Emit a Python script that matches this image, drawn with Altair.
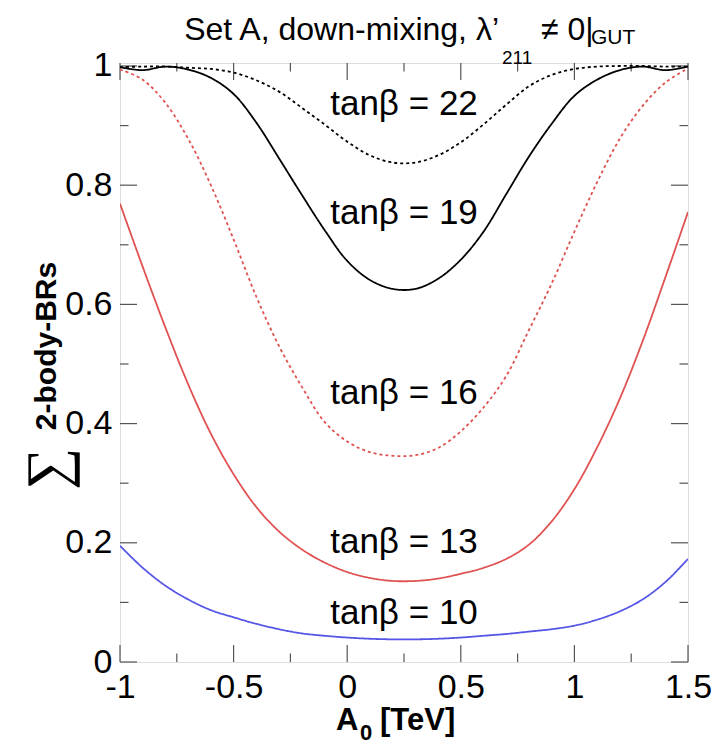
import altair as alt
import pandas as pd

# ---------------- data ----------------
a0 = [-1.0, -0.9, -0.8, -0.7, -0.6, -0.5, -0.4, -0.3, -0.2, -0.1, 0.0,
      0.1, 0.2, 0.3, 0.4, 0.5, 0.6, 0.7, 0.8, 0.9, 1.0, 1.1, 1.2, 1.3, 1.4, 1.5]

br_tb10 = [0.195, 0.158, 0.128, 0.105, 0.087, 0.075, 0.064, 0.055, 0.048, 0.044, 0.041,
           0.039, 0.038, 0.038, 0.039, 0.041, 0.044, 0.047, 0.051, 0.055, 0.061,
           0.071, 0.085, 0.105, 0.134, 0.173]
br_tb13 = [0.769, 0.663, 0.561, 0.466, 0.383, 0.315, 0.260, 0.219, 0.189, 0.167, 0.151,
           0.141, 0.136, 0.136, 0.140, 0.148, 0.158, 0.173, 0.197, 0.236, 0.290,
           0.360, 0.442, 0.538, 0.645, 0.755]
br_tb16 = [0.994, 0.977, 0.938, 0.878, 0.800, 0.709, 0.613, 0.530, 0.462, 0.403, 0.370,
           0.352, 0.346, 0.347, 0.359, 0.387, 0.427, 0.480, 0.557, 0.635, 0.722,
           0.805, 0.878, 0.933, 0.972, 0.996]
br_tb19 = [0.998, 0.993, 0.999, 0.994, 0.980, 0.953, 0.905, 0.845, 0.784, 0.725, 0.673,
           0.641, 0.626, 0.626, 0.643, 0.675, 0.722, 0.785, 0.848, 0.903, 0.950,
           0.977, 0.993, 0.999, 0.993, 0.999]
br_tb22 = [0.998, 0.999, 0.999, 0.997, 0.995, 0.989, 0.976, 0.957, 0.930, 0.902, 0.873,
           0.850, 0.838, 0.838, 0.850, 0.872, 0.902, 0.935, 0.966, 0.985, 0.995,
           0.999, 1.000, 1.000, 0.999, 0.999]

series_names = ["tb10", "tb13", "tb16", "tb19", "tb22"]
series_vals = [br_tb10, br_tb13, br_tb16, br_tb19, br_tb22]
series_colors = ["#5555e6", "#e05252", "#e05252", "#000000", "#000000"]
series_dash = [[1, 0], [1, 0], [3, 3], [1, 0], [3, 3]]

label_texts = ["tanβ = 10", "tanβ = 13", "tanβ = 16", "tanβ = 19", "tanβ = 22"]
label_x = [0.25, 0.25, 0.25, 0.25, 0.25]
label_y = [0.082, 0.201, 0.452, 0.753, 0.936]

x_major = [-1.0, -0.5, 0.0, 0.5, 1.0, 1.5]
x_minor = [-0.75, -0.25, 0.25, 0.75, 1.25]
y_major = [0.0, 0.2, 0.4, 0.6, 0.8, 1.0]
y_minor = [0.1, 0.3, 0.5, 0.7, 0.9]

# ---------------- tables ----------------
rows = []
for name, vals in zip(series_names, series_vals):
    for xv, yv in zip(a0, vals):
        rows.append({"A0": xv, "br": yv, "series": name})
lines_df = pd.DataFrame(rows)
labels_df = pd.DataFrame({"x": label_x, "y": label_y, "text": label_texts})
xmaj_df = pd.DataFrame({"v": x_major})
xmin_df = pd.DataFrame({"v": x_minor})
ymaj_df = pd.DataFrame({"v": y_major})
ymin_df = pd.DataFrame({"v": y_minor})
dummy = pd.DataFrame({"d": [0]})

W, H = 568, 599
XS = alt.Scale(domain=[-1.0, 1.5], nice=False, zero=False)
YS = alt.Scale(domain=[0.0, 1.005], nice=False, zero=False)
FONT = "Liberation Sans"
TICK_COLOR = "#555555"
MAJ, MIN = 17, 8.5

XAX = alt.Axis(values=x_major, labelExpr="'' + datum.value", ticks=False, tickSize=0,
               domain=False, grid=False, labelFontSize=34, labelFont=FONT,
               labelColor="black", labelPadding=8, labelFlush=False,
               labelOverlap=False, title=None)
YAX = alt.Axis(values=y_major, labelExpr="'' + datum.value", ticks=False, tickSize=0,
               domain=False, grid=False, labelFontSize=34, labelFont=FONT,
               labelColor="black", labelPadding=8, labelFlush=False,
               labelOverlap=False, title=None)

lines = alt.Chart(lines_df).mark_line(strokeWidth=1.8, interpolate="catmull-rom", clip=True).encode(
    x=alt.X("A0:Q", scale=XS, axis=XAX),
    y=alt.Y("br:Q", scale=YS, axis=YAX),
    color=alt.Color("series:N", scale=alt.Scale(domain=series_names, range=series_colors), legend=None),
    strokeDash=alt.StrokeDash("series:N", scale=alt.Scale(domain=series_names, range=series_dash), legend=None),
    detail="series:N",
)


def xticks(df, length):
    bottom = alt.Chart(df).mark_rule(color=TICK_COLOR, strokeWidth=1.2).encode(
        x=alt.X("v:Q", scale=XS, axis=XAX), y=alt.value(H), y2=alt.value(H - length))
    top = alt.Chart(df).mark_rule(color=TICK_COLOR, strokeWidth=1.2).encode(
        x=alt.X("v:Q", scale=XS, axis=XAX), y=alt.value(0), y2=alt.value(length))
    return [bottom, top]


def yticks(df, length):
    left = alt.Chart(df).mark_rule(color=TICK_COLOR, strokeWidth=1.2).encode(
        y=alt.Y("v:Q", scale=YS, axis=YAX), x=alt.value(0), x2=alt.value(length))
    right = alt.Chart(df).mark_rule(color=TICK_COLOR, strokeWidth=1.2).encode(
        y=alt.Y("v:Q", scale=YS, axis=YAX), x=alt.value(W), x2=alt.value(W - length))
    return [left, right]


ticks = xticks(xmaj_df, MAJ) + xticks(xmin_df, MIN) + yticks(ymaj_df, MAJ) + yticks(ymin_df, MIN)

labels = alt.Chart(labels_df).mark_text(fontSize=35, font=FONT, color="black",
                                        align="center", baseline="middle").encode(
    x=alt.X("x:Q", scale=XS, axis=XAX), y=alt.Y("y:Q", scale=YS, axis=YAX), text="text:N")


def txt(s, x, y, size, weight="normal", align="left", baseline="alphabetic", font=FONT, angle=None):
    kw = dict(align=align, baseline=baseline, fontSize=size, font=font,
              fontWeight=weight, color="black")
    if angle is not None:
        kw["angle"] = angle
    return alt.Chart(dummy).mark_text(**kw).encode(
        x=alt.value(x), y=alt.value(y), text=alt.value(s))


texts = [
    # title
    txt("Set A, down-mixing, λ’", 379, -22.6, 32, align="right"),
    txt("211", 382, 0.5, 19),
    txt("≠ 0|", 421, -22.6, 32),
    txt("GUT", 471, -19, 21),
    # x-axis title
    txt("A", 216, 666.5, 31, weight="bold"),
    txt("0", 240, 677, 22, weight="bold"),
    txt("[TeV]", 260, 666.5, 31, weight="bold"),
    # y-axis title
    txt("2-body-BRs", -73, 283, 30, weight="bold", align="center", baseline="middle", angle=270),
    txt("∑", -71, 406, 59, align="center", baseline="middle", font="Liberation Serif", angle=270),
]

chart = alt.layer(*ticks, lines, labels, *texts).properties(
    width=W, height=H,
    autosize=alt.AutoSizeParams(type="none"),
    padding={"left": 112, "top": 55, "right": 24, "bottom": 86},
).configure_view(stroke="black", strokeWidth=2).configure(background="white")

chart.save("out.html", embed_options={"renderer": "svg", "actions": False})
